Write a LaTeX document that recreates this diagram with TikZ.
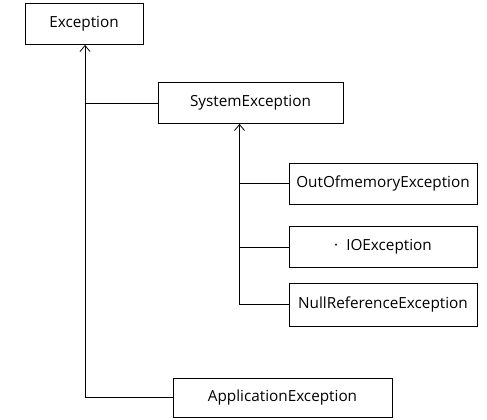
\documentclass[tikz,border=0pt]{standalone}
\usepackage{fontspec}
\setmainfont{Open Sans}
\usetikzlibrary{arrows.meta, positioning}
\tikzstyle{classbox} = [rectangle, draw=black, line width=0.8pt, minimum height=41pt, text centered, inner sep=0pt, font=\fontsize{15.3}{18}\selectfont]
\tikzstyle{inherit} = [line width=0.8pt, -{Straight Barb[length=6pt, width=10pt]}]
\tikzstyle{branch} = [line width=0.8pt]

\begin{document}
\begin{tikzpicture}[x=1pt, y=-1pt, node distance=80pt]
\useasboundingbox (0,0) rectangle (487,420);
\node (exc) [classbox, minimum width=118pt] at (84,24) {Exception};
\node (sys) [classbox, minimum width=185pt, below of=exc, xshift=166.5pt, yshift=1pt] {SystemException};
\node (oom) [classbox, minimum width=188pt, below of=sys, xshift=132.5pt, yshift=-0.5pt] {OutOfmemoryException};
\node (io) [classbox, minimum width=188pt, below of=oom, yshift=16.5pt] {\textperiodcentered\hspace{8pt}IOException};
\node (nul) [classbox, minimum width=188pt, below of=io, yshift=22.5pt, minimum height=43pt] {NullReferenceException};
\node (app) [classbox, minimum width=219pt, minimum height=39pt, below of=exc, xshift=198.5pt, yshift=-293.5pt] {ApplicationException};
\coordinate (trunk) at ([xshift=1pt]exc.south);
\coordinate (systrunk) at ([xshift=-11pt]sys.south);
\draw[inherit] (app.west) -| (trunk);
\draw[branch] (sys.west) -- (trunk |- sys.west);
\draw[inherit] (nul.west) -| (systrunk);
\draw[branch] (oom.west) -- (systrunk |- oom.west);
\draw[branch] (io.west) -- (systrunk |- io.west);
\end{tikzpicture}
\end{document}
